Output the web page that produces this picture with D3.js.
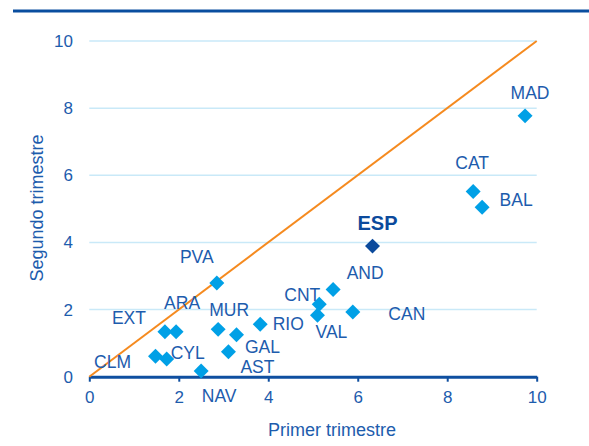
<!DOCTYPE html>
<html><head><meta charset="utf-8">
<script src="https://cdn.jsdelivr.net/npm/d3@7"></script>
<style>body{margin:0;background:#fff;}svg{display:block;font-family:Arial,"Liberation Sans",sans-serif;}</style>
</head><body>
<script>
const regions = ["MAD","CAT","BAL","ESP","AND","CNT","VAL","CAN","PVA","RIO","MUR","GAL","AST","NAV","EXT","ARA","CLM","CYL"];
const primerTrimestre  = [9.74,8.58,8.78,6.33,5.45,5.14,5.10,5.89,2.85,3.82,2.88,3.29,3.11,2.50,1.69,1.94,1.48,1.73];
const segundoTrimestre = [7.77,5.52,5.05,3.89,2.60,2.16,1.83,1.93,2.79,1.56,1.41,1.25,0.74,0.17,1.34,1.34,0.61,0.53];
const tickValues = [0,2,4,6,8,10];

// label placement (offset of text centre from the point, px)
const labelOffsets = {MAD:[5,-23],CAT:[-1,-29],BAL:[34,-7],ESP:[5,-23],AND:[32,-17],CNT:[-17,-9],
  CAN:[54,2],VAL:[14,17],PVA:[-20,-26],ARA:[6,-29],EXT:[-36,-14],MUR:[11,-19],RIO:[28,0],
  GAL:[26,12],AST:[29,15],CYL:[21,-6],CLM:[-43,6],NAV:[18,25]};

const W=589,H=446;
const textBlue="#1d5cad", axisBlue="#0f4fa0", light="#00a0e6", dark="#0b4a9c";
const svg=d3.select("body").append("svg").attr("width",W).attr("height",H);

const x=d3.scaleLinear().domain([0,10]).range([89.3,536.7]);
const y=d3.scaleLinear().domain([0,10]).range([376.7,41]);

// top rule
svg.append("line").attr("x1",13).attr("x2",589).attr("y1",11).attr("y2",11)
  .attr("stroke","#0a4e9f").attr("stroke-width",3);

// gridlines
svg.append("g").selectAll("line").data(tickValues.filter(d=>d>0)).join("line")
  .attr("x1",x(0)).attr("x2",x(10)).attr("y1",d=>y(d)).attr("y2",d=>y(d))
  .attr("stroke","#c9e9f8").attr("stroke-width",1.5);

// y tick labels
svg.append("g").selectAll("text").data(tickValues).join("text")
  .attr("x",73).attr("y",d=>y(d)).attr("dy","0.35em").attr("text-anchor","end")
  .attr("fill",textBlue).attr("font-size",17).text(d=>d);

// x axis
const xAxis=d3.axisBottom(x).tickValues(tickValues).tickSize(5).tickPadding(9).tickSizeOuter(0);
const gx=svg.append("g").attr("transform",`translate(0,${y(0)})`).call(xAxis);
gx.select(".domain").attr("stroke",axisBlue).attr("stroke-width",3);
gx.selectAll(".tick line").attr("stroke",axisBlue).attr("stroke-width",2);
gx.selectAll(".tick text").attr("fill",textBlue).attr("font-size",17).attr("font-family","Arial, 'Liberation Sans', sans-serif");

// diagonal
svg.append("line").attr("x1",x(0)).attr("y1",y(0)).attr("x2",x(10)).attr("y2",y(10))
  .attr("stroke","#f58a1f").attr("stroke-width",2);

// points
const data=regions.map((r,i)=>({r,px:primerTrimestre[i],sy:segundoTrimestre[i]}));
const sym=d3.symbol().type(d3.symbolSquare).size(112);
svg.append("g").selectAll("path").data(data).join("path")
  .attr("d",sym)
  .attr("transform",d=>`translate(${x(d.px)},${y(d.sy)}) rotate(45)`)
  .attr("fill",d=>d.r==="ESP"?dark:light);

// labels
svg.append("g").selectAll("text").data(data).join("text")
  .attr("x",d=>x(d.px)+labelOffsets[d.r][0]).attr("y",d=>y(d.sy)+labelOffsets[d.r][1])
  .attr("dy","0.35em").attr("text-anchor","middle")
  .attr("fill",d=>d.r==="ESP"?dark:textBlue)
  .attr("font-size",d=>d.r==="ESP"?20:17.5)
  .attr("font-weight",d=>d.r==="ESP"?"bold":"normal")
  .text(d=>d.r);

// axis titles
svg.append("text").attr("x",332).attr("y",430).attr("dy","0.35em").attr("text-anchor","middle")
  .attr("fill",textBlue).attr("font-size",18).text("Primer trimestre");
svg.append("text").attr("transform","translate(37,208) rotate(-90)").attr("dy","0.35em")
  .attr("text-anchor","middle").attr("fill",textBlue).attr("font-size",18).text("Segundo trimestre");
</script>
</body></html>
